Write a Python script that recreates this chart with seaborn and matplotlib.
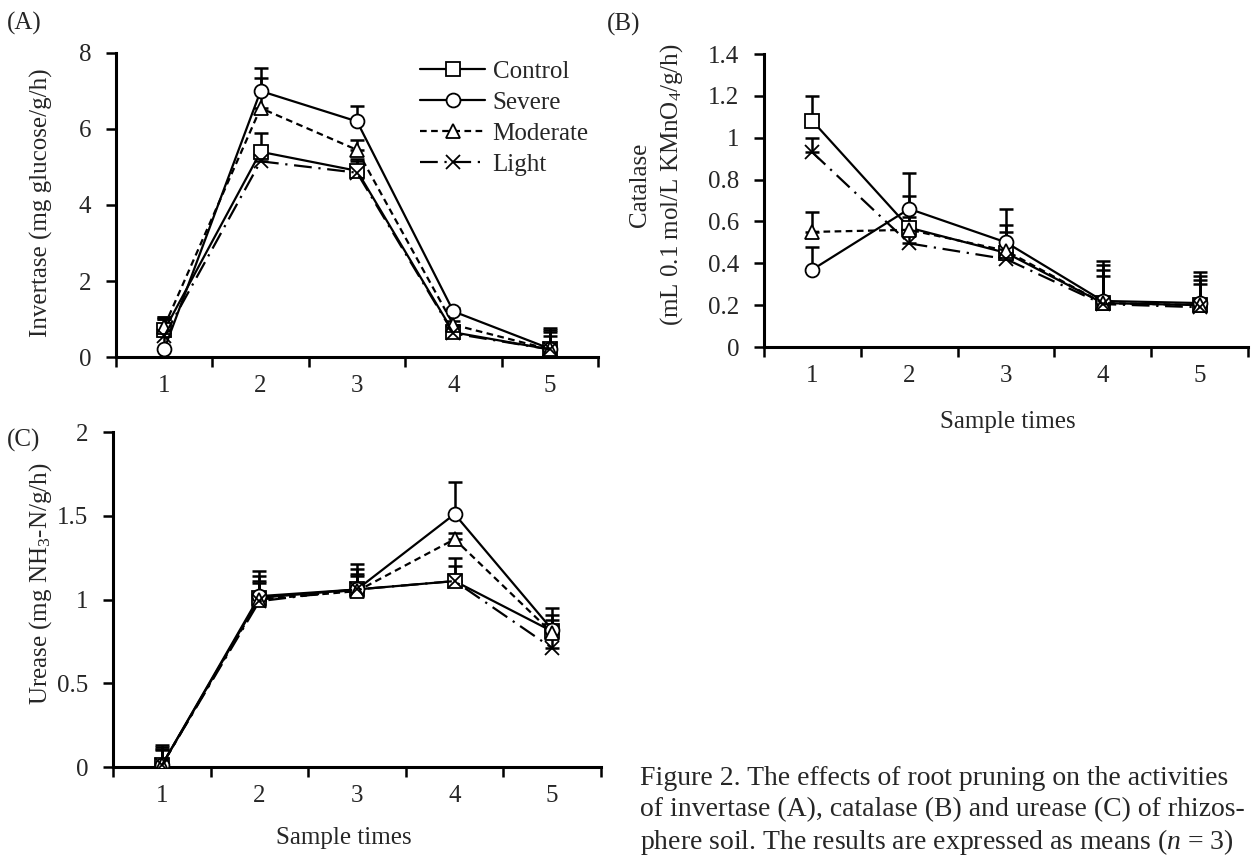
import numpy as np
import pandas as pd
import matplotlib
matplotlib.use("Agg")
import matplotlib.pyplot as plt
from matplotlib.lines import Line2D
import seaborn as sns

# ---------------- data ----------------
sample_times = [1, 2, 3, 4, 5]
series = ["Control", "Severe", "Moderate", "Light"]

# (A) Invertase
inv_control = [0.70, 5.40, 4.90, 0.65, 0.20]
inv_severe = [0.20, 7.00, 6.20, 1.20, 0.22]
inv_moderate = [0.80, 6.55, 5.45, 0.85, 0.20]
inv_light = [0.55, 5.15, 4.85, 0.62, 0.20]
inv_control_err = [0.30, 0.50, 0.30, 0.15, 0.50]
inv_severe_err = [0.85, 0.60, 0.40, 0.10, 0.55]
inv_moderate_err = [0.25, 0.80, 0.25, 0.10, 0.45]
inv_light_err = [0.45, 0.40, 0.30, 0.10, 0.35]

# (B) Catalase
cat_control = [1.08, 0.57, 0.45, 0.21, 0.20]
cat_severe = [0.37, 0.66, 0.50, 0.22, 0.21]
cat_moderate = [0.55, 0.56, 0.46, 0.21, 0.20]
cat_light = [0.93, 0.495, 0.42, 0.205, 0.19]
cat_control_err = [0.12, 0.05, 0.10, 0.18, 0.14]
cat_severe_err = [0.11, 0.17, 0.16, 0.19, 0.15]
cat_moderate_err = [0.095, 0.16, 0.125, 0.16, 0.12]
cat_light_err = [0.07, 0.10, 0.08, 0.135, 0.11]

# (C) Urease
ure_control = [0.01, 1.01, 1.06, 1.11, 0.81]
ure_severe = [0.01, 1.02, 1.06, 1.51, 0.82]
ure_moderate = [0.01, 1.00, 1.05, 1.36, 0.80]
ure_light = [0.01, 0.99, 1.06, 1.11, 0.71]
ure_control_err = [0.12, 0.16, 0.15, 0.14, 0.14]
ure_severe_err = [0.11, 0.12, 0.12, 0.19, 0.09]
ure_moderate_err = [0.10, 0.11, 0.10, 0.04, 0.08]
ure_light_err = [0.09, 0.11, 0.08, 0.09, 0.09]

caption_lines = [
    "Figure 2. The effects of root pruning on the activities",
    "of invertase (A), catalase (B) and urease (C) of rhizos-",
    "phere soil. The results are expressed as means ($\\it{n}$ = 3)",
]

# ---------------- style ----------------
sns.set_theme(style="white")
plt.rcParams["font.family"] = ["Liberation Serif", "DejaVu Serif"]
plt.rcParams["mathtext.fontset"] = "custom"
plt.rcParams["mathtext.rm"] = "Liberation Serif"
plt.rcParams["mathtext.it"] = "Liberation Serif:italic"
plt.rcParams["mathtext.bf"] = "Liberation Serif:bold"
FS = 18
CAP_FS = 20

styles = {
    "Control": dict(marker="s", linestyle="-"),
    "Severe": dict(marker="o", linestyle="-"),
    "Moderate": dict(marker="^", linestyle=(0, (3, 2))),
    "Light": dict(marker="x", linestyle=(0, (8, 3, 1, 3))),
}

W, H = 1252, 855
fig = plt.figure(figsize=(W / 100, H / 100), dpi=100)


def fpos(x0, x1, ytop, ybot):
    return [x0 / W, 1 - ybot / H, (x1 - x0) / W, (ybot - ytop) / H]


def fx(px):
    return px / W


def fy(py):
    return 1 - py / H


axA = fig.add_axes(fpos(116, 598, 53, 357))
axB = fig.add_axes(fpos(764, 1248, 54, 347))
axC = fig.add_axes(fpos(113, 601, 432, 767))


def draw_panel(ax, means, errs):
    for name, m, e in zip(series, means, errs):
        df = pd.DataFrame({"t": sample_times, "v": m})
        st = styles[name]
        ax.errorbar(sample_times, m, yerr=[np.zeros(len(e)), e], fmt="none",
                    ecolor="black", elinewidth=1.8, capsize=5, capthick=1.8,
                    zorder=2)
        sns.lineplot(data=df, x="t", y="v", ax=ax, color="black",
                     linestyle=st["linestyle"], linewidth=1.6,
                     marker=st["marker"], markersize=10,
                     markerfacecolor="white", markeredgecolor="black",
                     markeredgewidth=1.3, zorder=3, legend=False)
    ax.set_xlim(0.5, 5.5)
    ax.set_xticks([0.5, 1.5, 2.5, 3.5, 4.5, 5.5])
    ax.set_xticklabels([])
    ax.set_xticks(sample_times, minor=True)
    ax.set_xticklabels([str(t) for t in sample_times], minor=True, fontsize=FS)
    ax.tick_params(axis="x", which="major", direction="out", length=7,
                   width=1.8, bottom=True, color="black")
    ax.tick_params(axis="x", which="minor", length=0, pad=13)
    ax.tick_params(axis="y", direction="out", length=7, width=1.8, left=True,
                   labelsize=FS, pad=11, color="black")
    for s in ["top", "right"]:
        ax.spines[s].set_visible(False)
    for s in ["left", "bottom"]:
        ax.spines[s].set_linewidth(2.2)
        ax.spines[s].set_color("black")
    ax.set_xlabel("")
    ax.set_ylabel("")
    ax.grid(False)
    ax.set_facecolor("none")


draw_panel(axA, [inv_control, inv_severe, inv_moderate, inv_light],
           [inv_control_err, inv_severe_err, inv_moderate_err, inv_light_err])
axA.set_ylim(0, 8)
axA.set_yticks([0, 2, 4, 6, 8])
axA.set_yticklabels(["0", "2", "4", "6", "8"])
axA.set_ylabel("Invertase (mg glucose/g/h)", fontsize=FS, va="center")
axA.yaxis.set_label_coords(fx(41), fy(203), transform=fig.transFigure)

draw_panel(axB, [cat_control, cat_severe, cat_moderate, cat_light],
           [cat_control_err, cat_severe_err, cat_moderate_err, cat_light_err])
axB.set_ylim(0, 1.4)
axB.set_yticks([0, 0.2, 0.4, 0.6, 0.8, 1.0, 1.2, 1.4])
axB.set_yticklabels(["0", "0.2", "0.4", "0.6", "0.8", "1", "1.2", "1.4"])
fig.text(fx(640), fy(185), "Catalase", rotation=90, fontsize=FS,
         ha="center", va="center")
fig.text(fx(672), fy(185), "(mL 0.1 mol/L KMnO$_4$/g/h)", rotation=90,
         fontsize=FS, ha="center", va="center")
axB.set_xlabel("Sample times", fontsize=FS, va="center")
axB.xaxis.set_label_coords(fx(1008), fy(422), transform=fig.transFigure)

draw_panel(axC, [ure_control, ure_severe, ure_moderate, ure_light],
           [ure_control_err, ure_severe_err, ure_moderate_err, ure_light_err])
axC.set_ylim(0, 2)
axC.set_yticks([0, 0.5, 1, 1.5, 2])
axC.set_yticklabels(["0", "0.5", "1", "1.5", "2"])
axC.set_ylabel("Urease (mg NH$_3$-N/g/h)", fontsize=FS, va="center")
axC.yaxis.set_label_coords(fx(41), fy(584), transform=fig.transFigure)
axC.set_xlabel("Sample times", fontsize=FS, va="center")
axC.xaxis.set_label_coords(fx(344), fy(838), transform=fig.transFigure)

# legend
handles = [Line2D([], [], color="black", linestyle=styles[n]["linestyle"],
                  linewidth=1.6, marker=styles[n]["marker"], markersize=10,
                  markerfacecolor="white", markeredgecolor="black",
                  markeredgewidth=1.3) for n in series]
axA.legend(handles, series, loc="upper left",
           bbox_to_anchor=(fx(420), fy(60)), bbox_transform=fig.transFigure,
           frameon=False, fontsize=FS, handlelength=2.6, handletextpad=0.3,
           labelspacing=0.35, borderaxespad=0, borderpad=0)

# panel labels
fig.text(fx(7), fy(23), "(A)", fontsize=FS, va="center", ha="left")
fig.text(fx(607), fy(24), "(B)", fontsize=FS, va="center", ha="left")
fig.text(fx(7), fy(440), "(C)", fontsize=FS, va="center", ha="left")

# caption
for i, line in enumerate(caption_lines):
    fig.text(fx(640), fy(778 + 32 * i), line, fontsize=CAP_FS,
             va="center", ha="left")

fig.savefig("out.png", dpi=100, facecolor="white")
